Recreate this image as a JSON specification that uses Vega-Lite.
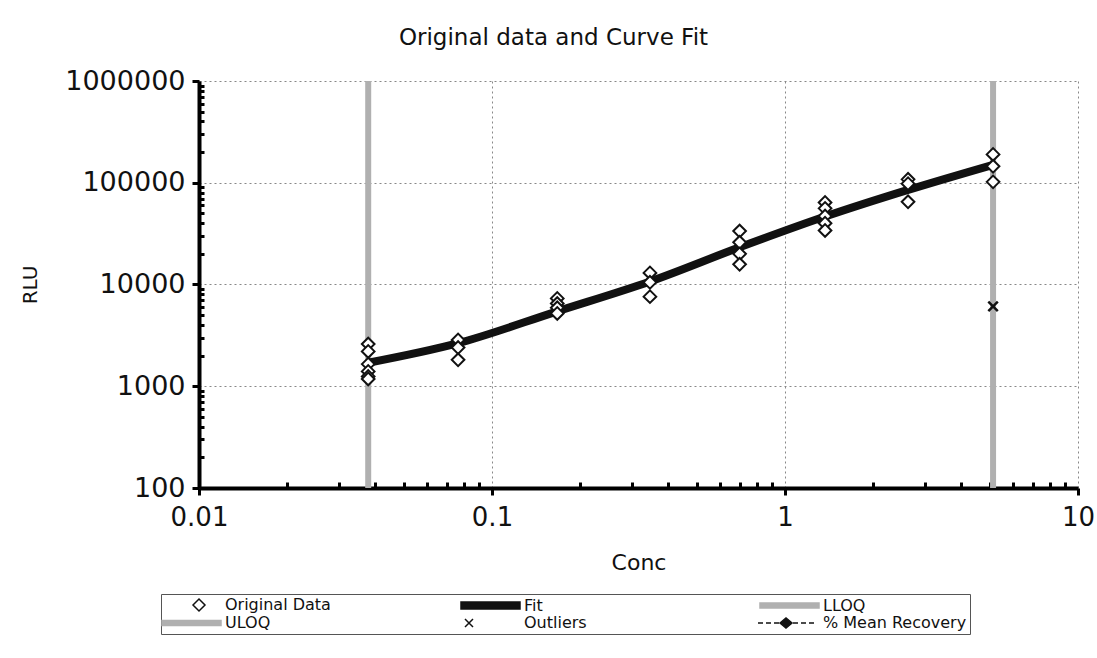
{
  "$schema": "https://vega.github.io/schema/vega-lite/v6.json",
  "width": 879,
  "height": 407,
  "autosize": {"type": "none"},
  "padding": {"left": 199, "top": 81, "right": 19, "bottom": 170},
  "background": "white",
  "title": {
    "text": "Original data and Curve Fit",
    "font": "DejaVu Sans",
    "fontSize": 23,
    "fontWeight": "normal",
    "color": "#111",
    "anchor": "middle",
    "frame": "group",
    "dx": -85,
    "offset": 17
  },
  "config": {
    "view": {"stroke": null},
    "font": "DejaVu Sans",
    "legend": {
      "orient": "none",
      "legendX": -38,
      "legendY": 513,
      "direction": "horizontal",
      "columns": 3,
      "gridAlign": "all",
      "columnPadding": 87,
      "rowPadding": 1,
      "padding": 3,
      "strokeColor": "#555",
      "fillColor": "white",
      "labelFont": "DejaVu Sans",
      "labelFontSize": 16,
      "labelColor": "#111",
      "labelOffset": 45,
      "labelLimit": 400,
      "symbolSize": 4,
      "symbolStrokeWidth": 1.5,
      "symbolOpacity": 1
    }
  },
  "datasets": {
    "orig": [
      {"conc": 0.0378, "rlu": 2600}, {"conc": 0.0378, "rlu": 2200}, {"conc": 0.0378, "rlu": 1650},
      {"conc": 0.0378, "rlu": 1400}, {"conc": 0.0378, "rlu": 1250}, {"conc": 0.0378, "rlu": 1180},
      {"conc": 0.0766, "rlu": 2850}, {"conc": 0.0766, "rlu": 2400}, {"conc": 0.0766, "rlu": 1820},
      {"conc": 0.167, "rlu": 7300}, {"conc": 0.167, "rlu": 6500}, {"conc": 0.167, "rlu": 5900}, {"conc": 0.167, "rlu": 5200},
      {"conc": 0.346, "rlu": 13000}, {"conc": 0.346, "rlu": 10500}, {"conc": 0.346, "rlu": 7600},
      {"conc": 0.70, "rlu": 33500}, {"conc": 0.70, "rlu": 26000}, {"conc": 0.70, "rlu": 20000}, {"conc": 0.70, "rlu": 15800},
      {"conc": 1.37, "rlu": 64000}, {"conc": 1.37, "rlu": 56000}, {"conc": 1.37, "rlu": 47000}, {"conc": 1.37, "rlu": 40000}, {"conc": 1.37, "rlu": 34000},
      {"conc": 2.63, "rlu": 108000}, {"conc": 2.63, "rlu": 98000}, {"conc": 2.63, "rlu": 65000},
      {"conc": 5.13, "rlu": 190000}, {"conc": 5.13, "rlu": 145000}, {"conc": 5.13, "rlu": 102000}
    ],
    "fit": [
      {"conc": 0.0378, "rlu": 1700}, {"conc": 0.0766, "rlu": 2650}, {"conc": 0.167, "rlu": 5450},
      {"conc": 0.346, "rlu": 10700}, {"conc": 0.70, "rlu": 23200}, {"conc": 1.37, "rlu": 46500},
      {"conc": 2.63, "rlu": 85000}, {"conc": 5.13, "rlu": 150000}
    ],
    "limits": [
      {"conc": 0.0378, "name": "LLOQ"}, {"conc": 5.13, "name": "ULOQ"}
    ],
    "outliers": [
      {"conc": 5.13, "rlu": 6100}
    ],
    "legendrows": [
      {"series": "Original Data"}, {"series": "Fit"}, {"series": "LLOQ"},
      {"series": "ULOQ"}, {"series": "Outliers"}, {"series": "% Mean Recovery"}
    ]
  },
  "encoding": {
    "x": {
      "field": "conc", "type": "quantitative",
      "scale": {"type": "log", "domain": [0.01, 10], "nice": false},
      "axis": {
        "title": "Conc",
        "titleFont": "DejaVu Sans", "titleFontSize": 22, "titleFontWeight": "normal", "titleColor": "#111",
        "titlePadding": 22,
        "values": [0.01,0.02,0.03,0.04,0.05,0.06,0.07,0.08,0.09,0.1,0.2,0.3,0.4,0.5,0.6,0.7,0.8,0.9,1,2,3,4,5,6,7,8,9,10],
        "format": "~g",
        "labelExpr": "abs(log(datum.value)/LN10 - round(log(datum.value)/LN10)) < 0.001 ? datum.label : ''",
        "labelFont": "DejaVu Sans", "labelFontSize": 26, "labelColor": "#111",
        "labelPadding": 9,
        "labelFlush": false,
        "labelOverlap": false,
        "domainColor": "#000", "domainWidth": 4,
        "tickColor": "#000", "tickWidth": 3,
        "tickSize": {"condition": {"test": "abs(log(datum.value)/LN10 - round(log(datum.value)/LN10)) < 0.001", "value": 7}, "value": -6},
        "grid": true,
        "gridColor": "#888", "gridDash": [2, 3], "gridWidth": 1,
        "gridOpacity": {"condition": {"test": "abs(log(datum.value)/LN10 - round(log(datum.value)/LN10)) < 0.001", "value": 1}, "value": 0}
      }
    },
    "y": {
      "field": "rlu", "type": "quantitative",
      "scale": {"type": "log", "domain": [100, 1000000], "nice": false},
      "axis": {
        "title": "RLU",
        "titleFont": "DejaVu Sans", "titleFontSize": 20, "titleFontWeight": "normal", "titleColor": "#111",
        "titlePadding": 24,
        "values": [100,200,300,400,500,600,700,800,900,1000,2000,3000,4000,5000,6000,7000,8000,9000,10000,20000,30000,40000,50000,60000,70000,80000,90000,100000,200000,300000,400000,500000,600000,700000,800000,900000,1000000],
        "format": "d",
        "labelExpr": "abs(log(datum.value)/LN10 - round(log(datum.value)/LN10)) < 0.001 ? datum.label : ''",
        "labelFont": "DejaVu Sans", "labelFontSize": 27, "labelColor": "#111",
        "labelPadding": 7,
        "labelFlush": false,
        "labelOverlap": false,
        "domainColor": "#000", "domainWidth": 4,
        "tickColor": "#000", "tickWidth": 3,
        "tickSize": {"condition": {"test": "abs(log(datum.value)/LN10 - round(log(datum.value)/LN10)) < 0.001", "value": 7}, "value": -5},
        "grid": true,
        "gridColor": "#888", "gridDash": [2, 3], "gridWidth": 1,
        "gridOpacity": {"condition": {"test": "abs(log(datum.value)/LN10 - round(log(datum.value)/LN10)) < 0.001", "value": 1}, "value": 0}
      }
    }
  },
  "layer": [
    {
      "data": {"name": "limits"},
      "mark": {"type": "rule", "color": "#b0b0b0", "strokeWidth": 6},
      "encoding": {"y": null}
    },
    {
      "data": {"name": "fit"},
      "mark": {"type": "line", "color": "#111", "strokeWidth": 8, "interpolate": "monotone"},
      "encoding": {}
    },
    {
      "data": {"name": "orig"},
      "mark": {"type": "point", "shape": "diamond", "filled": true, "fill": "white", "stroke": "#111", "strokeWidth": 2, "size": 160, "opacity": 1},
      "encoding": {}
    },
    {
      "data": {"name": "outliers"},
      "mark": {"type": "point", "shape": "M-1,-1L1,1M-1,1L1,-1", "filled": false, "stroke": "#111", "strokeWidth": 2.5, "size": 90, "opacity": 1},
      "encoding": {}
    },
    {
      "data": {"name": "legendrows"},
      "mark": {"type": "point", "filled": true, "size": 4, "strokeWidth": 1.5, "opacity": 1},
      "encoding": {
        "shape": {
          "field": "series", "type": "nominal", "title": null,
          "scale": {
            "domain": ["Original Data", "Fit", "LLOQ", "ULOQ", "Outliers", "% Mean Recovery"],
            "range": [
              "M21,0L27,-6L33,0L27,6Z",
              "M-10,-3.5H49V3.5H-10Z",
              "M-10,-2.5H49V2.5H-10Z",
              "M-10,-2.5H49V2.5H-10Z",
              "M-6,-4L2,4M-6,4L2,-4",
              "M-12,0H-7M-4,0H1M4,0H9M10,0L16,-5L22,0L16,5ZM23,0H28M31,0H36M39,0H44"
            ]
          }
        },
        "fill": {
          "field": "series", "type": "nominal", "title": null,
          "scale": {
            "domain": ["Original Data", "Fit", "LLOQ", "ULOQ", "Outliers", "% Mean Recovery"],
            "range": ["white", "#111", "#b0b0b0", "#b0b0b0", "white", "#111"]
          }
        },
        "stroke": {
          "field": "series", "type": "nominal", "title": null,
          "scale": {
            "domain": ["Original Data", "Fit", "LLOQ", "ULOQ", "Outliers", "% Mean Recovery"],
            "range": ["#111", "#111", "#b0b0b0", "#b0b0b0", "#111", "#111"]
          }
        }
      }
    }
  ]
}
